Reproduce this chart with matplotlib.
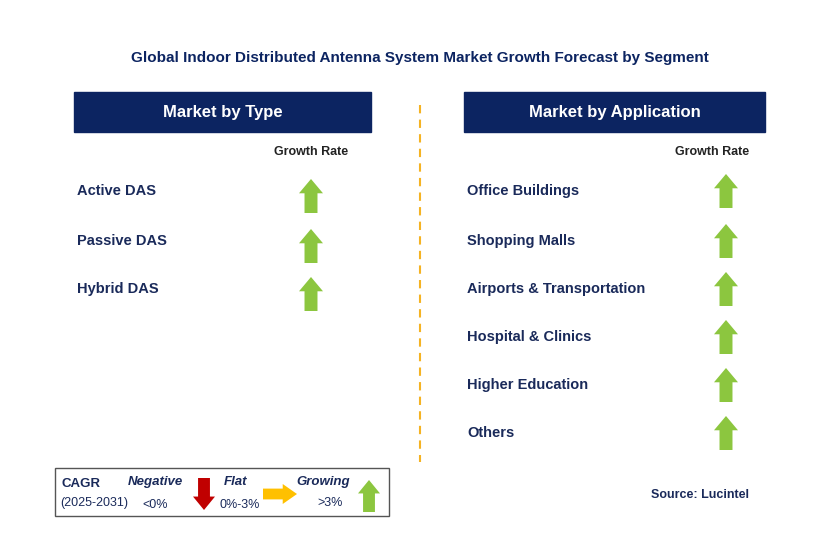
import matplotlib.pyplot as plt
from matplotlib.patches import Rectangle, Polygon

plt.rcParams["font.family"] = "Liberation Sans"

type_segments = ["Active DAS", "Passive DAS", "Hybrid DAS"]
type_growth = ["up", "up", "up"]
app_segments = ["Office Buildings", "Shopping Malls", "Airports & Transportation",
                "Hospital & Clinics", "Higher Education", "Others"]
app_growth = ["up", "up", "up", "up", "up", "up"]

NAVY = "#0c2461"
GREEN = "#8cc63f"
RED = "#c00000"
ORANGE = "#ffc000"
TXT = "#1a2a5a"

fig = plt.figure(figsize=(8.29, 5.44), dpi=100)
ax = fig.add_axes([0, 0, 1, 1])
ax.set_xlim(0, 829)
ax.set_ylim(544, 0)
ax.axis("off")


def arrow(cx, cy, direction, color, w=24, h=34):
    hw, sw = w / 2, w * 0.27
    hh = h * 0.42
    if direction == "up":
        pts = [(cx, cy - h/2), (cx + hw, cy - h/2 + hh), (cx + sw, cy - h/2 + hh),
               (cx + sw, cy + h/2), (cx - sw, cy + h/2), (cx - sw, cy - h/2 + hh),
               (cx - hw, cy - h/2 + hh)]
    elif direction == "down":
        pts = [(cx, cy + h/2), (cx + hw, cy + h/2 - hh), (cx + sw, cy + h/2 - hh),
               (cx + sw, cy - h/2), (cx - sw, cy - h/2), (cx - sw, cy + h/2 - hh),
               (cx - hw, cy + h/2 - hh)]
    else:  # right
        pts = [(cx + h/2, cy), (cx + h/2 - hh, cy - hw), (cx + h/2 - hh, cy - sw),
               (cx - h/2, cy - sw), (cx - h/2, cy + sw), (cx + h/2 - hh, cy + sw),
               (cx + h/2 - hh, cy + hw)]
    ax.add_patch(Polygon(pts, closed=True, color=color, lw=0))


ax.text(420, 58, "Global Indoor Distributed Antenna System Market Growth Forecast by Segment",
        ha="center", va="center", fontsize=11, fontweight="bold", color=NAVY)

# header boxes
for x0, x1, title in [(74, 371, "Market by Type"), (464, 765, "Market by Application")]:
    ax.add_patch(Rectangle((x0, 92), x1 - x0, 40, color=NAVY))
    ax.text((x0 + x1) / 2, 112, title, ha="center", va="center",
            fontsize=12, fontweight="bold", color="white")

ax.plot([420, 420], [105, 462], ls=(0, (4, 3)), color="#f5b323", lw=1.5)

ax.text(311, 152, "Growth Rate", ha="center", va="center", fontsize=9, fontweight="bold", color="#222")
ax.text(712, 152, "Growth Rate", ha="center", va="center", fontsize=9, fontweight="bold", color="#222")

type_y = [191, 241, 289]
for name, g, y in zip(type_segments, type_growth, type_y):
    ax.text(77, y, name, ha="left", va="center", fontsize=10.5, fontweight="bold", color=TXT)
    arrow(311, y + 5, g, GREEN)

app_y = [191, 241, 289, 337, 385, 433]
for name, g, y in zip(app_segments, app_growth, app_y):
    ax.text(467, y, name, ha="left", va="center", fontsize=10.5, fontweight="bold", color=TXT)
    arrow(726, y, g, GREEN)

# legend box
ax.add_patch(Rectangle((55, 468), 334, 48, fill=False, ec="#555", lw=1))
ax.text(62, 484, "CAGR", fontsize=9.5, fontweight="bold", color=TXT, va="center")
ax.text(60, 503, "(2025-2031)", fontsize=9, color=TXT, va="center")
ax.text(155, 482, "Negative", fontsize=9.5, fontweight="bold", style="italic", color=TXT, va="center", ha="center")
ax.text(155, 505, "<0%", fontsize=9, color=TXT, va="center", ha="center")
arrow(204, 494, "down", RED, w=22, h=32)
ax.text(236, 482, "Flat", fontsize=9.5, fontweight="bold", style="italic", color=TXT, va="center", ha="center")
ax.text(240, 505, "0%-3%", fontsize=9, color=TXT, va="center", ha="center")
arrow(280, 494, "right", ORANGE, w=20, h=34)
ax.text(323, 482, "Growing", fontsize=9.5, fontweight="bold", style="italic", color=TXT, va="center", ha="center")
ax.text(330, 503, ">3%", fontsize=9, color=TXT, va="center", ha="center")
arrow(369, 496, "up", GREEN, w=22, h=32)

ax.text(749, 495, "Source: Lucintel", ha="right", va="center", fontsize=9, fontweight="bold", color=TXT)

fig.savefig("out.png", dpi=100)
